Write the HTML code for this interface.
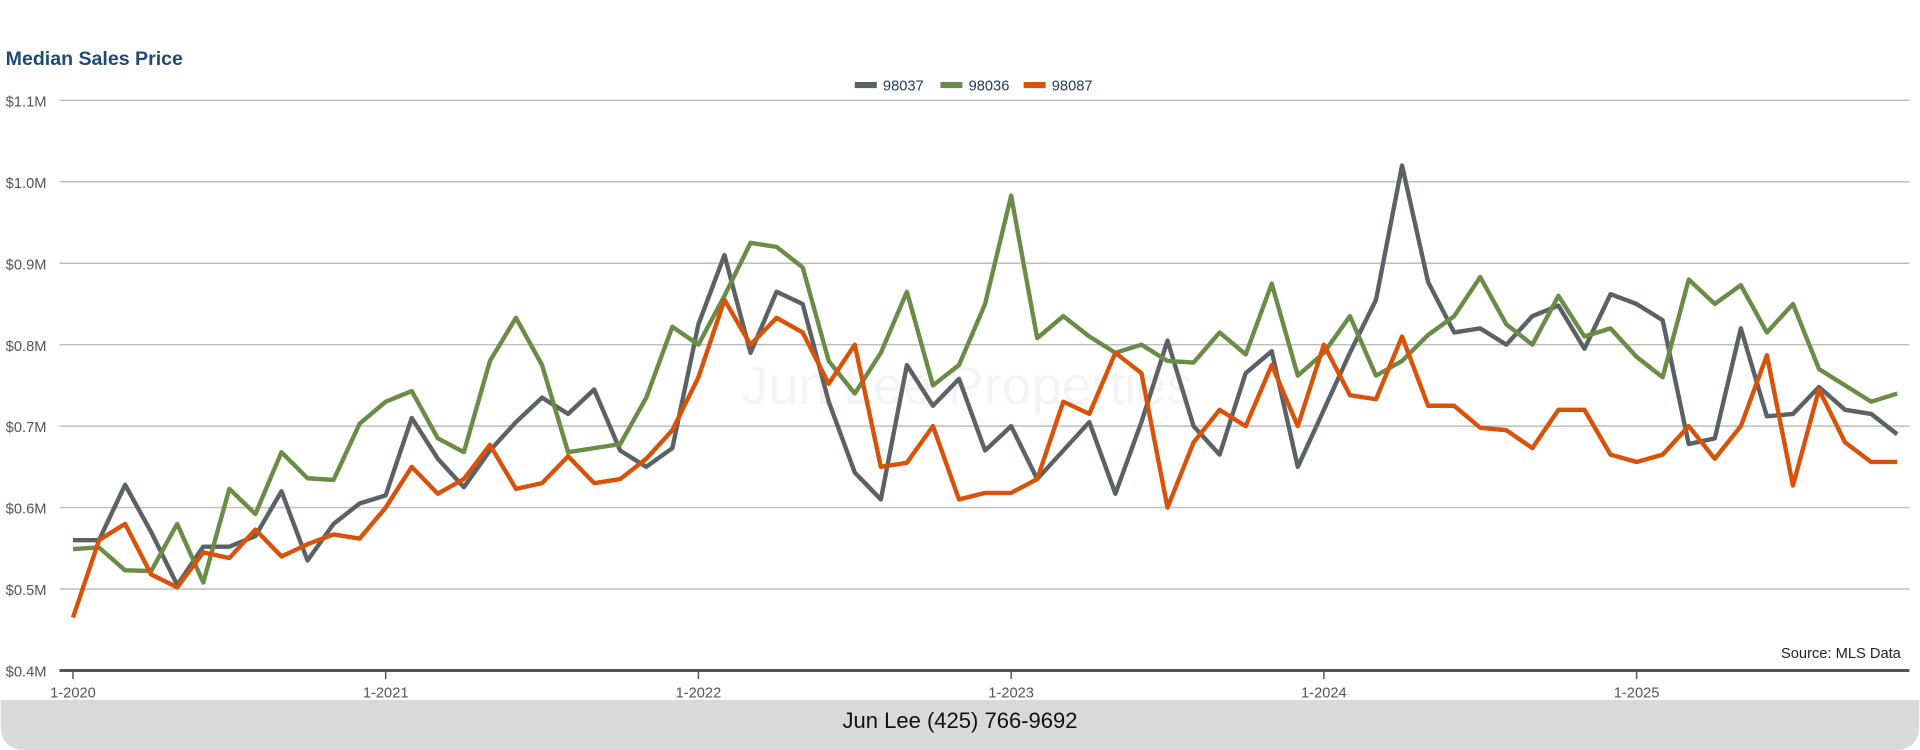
<!DOCTYPE html>
<html><head><meta charset="utf-8"><style>
html,body{margin:0;padding:0;background:#fff;width:1920px;height:750px;overflow:hidden}
svg{display:block;font-family:"Liberation Sans",Arial,sans-serif}
</style></head><body>
<svg id="chart" width="1920" height="750" viewBox="0 0 1568 613" xmlns="http://www.w3.org/2000/svg">
<text x="4" y="53" font-size="16" font-weight="bold" fill="#1f4a74">Median Sales Price</text>
<g id="legend"></g>
<text x="790" y="330" font-size="44" fill="#f4f4f4" text-anchor="middle">Jun Lee Properties</text>
<g id="grid"></g><g id="lines"></g><g id="axes"></g>
<text x="1553" y="538" font-size="12" fill="#222" text-anchor="end">Source: MLS Data</text>
<path d="M0 572 H1568 V593 Q1568 613 1548 613 H20 Q0 613 0 593 Z" fill="#d9d9d9"/>
<text x="784" y="595" font-size="18" fill="#111" text-anchor="middle">Jun Lee (425) 766-9692</text>
</svg>
<script>
const seriesNames = ["98037","98036","98087"];
const seriesColors = ["#5a6266","#6a8c47","#d9520a"];
const s98037 = [0.56,0.56,0.628,0.57,0.505,0.552,0.552,0.565,0.62,0.535,0.58,0.605,0.615,0.71,0.66,0.625,0.67,0.705,0.735,0.715,0.745,0.67,0.65,0.673,0.825,0.91,0.79,0.865,0.85,0.73,0.643,0.61,0.775,0.725,0.758,0.67,0.70,0.635,0.67,0.705,0.617,0.705,0.805,0.70,0.665,0.765,0.792,0.65,0.72,0.79,0.855,1.02,0.877,0.815,0.82,0.80,0.835,0.848,0.795,0.862,0.85,0.83,0.678,0.685,0.82,0.712,0.715,0.748,0.72,0.715,0.69];
const s98036 = [0.549,0.551,0.523,0.522,0.58,0.508,0.623,0.592,0.668,0.636,0.634,0.703,0.73,0.743,0.685,0.668,0.78,0.833,0.775,0.668,0.673,0.678,0.735,0.822,0.8,0.86,0.925,0.92,0.895,0.78,0.74,0.79,0.865,0.75,0.775,0.85,0.983,0.808,0.835,0.81,0.79,0.8,0.78,0.778,0.815,0.788,0.875,0.762,0.79,0.835,0.762,0.78,0.812,0.835,0.883,0.825,0.8,0.86,0.81,0.82,0.785,0.76,0.88,0.85,0.873,0.815,0.85,0.77,0.75,0.73,0.74];
const s98087 = [0.465,0.56,0.58,0.518,0.502,0.545,0.538,0.573,0.54,0.555,0.567,0.562,0.6,0.65,0.617,0.635,0.677,0.623,0.63,0.663,0.63,0.635,0.66,0.695,0.76,0.855,0.8,0.833,0.815,0.752,0.8,0.65,0.655,0.7,0.61,0.618,0.618,0.635,0.73,0.715,0.79,0.765,0.6,0.68,0.72,0.7,0.775,0.7,0.8,0.738,0.733,0.81,0.725,0.725,0.698,0.695,0.673,0.72,0.72,0.665,0.656,0.665,0.7,0.66,0.7,0.787,0.627,0.745,0.68,0.656,0.656];
const yTicks = [0.4,0.5,0.6,0.7,0.8,0.9,1.0,1.1];
const yTickLabels = ["$0.4M","$0.5M","$0.6M","$0.7M","$0.8M","$0.9M","$1.0M","$1.1M"];
const xTickIdx = [0,12,24,36,48,60];
const xTickLabels = ["1-2020","1-2021","1-2022","1-2023","1-2024","1-2025"];

const NS="http://www.w3.org/2000/svg";
const x0=59, dx=(1337-59)/60, yTop=82, yBot=548, vMin=0.4, vMax=1.1;
const X=i=>x0+i*dx;
const Y=v=>yBot-(v-vMin)/(vMax-vMin)*(yBot-yTop);
function mk(tag,attrs,parent){const e=document.createElementNS(NS,tag);for(const k in attrs)e.setAttribute(k,attrs[k]);parent.appendChild(e);return e;}
const grid=document.getElementById('grid'),lines=document.getElementById('lines'),axes=document.getElementById('axes'),legend=document.getElementById('legend');
yTicks.forEach((v,k)=>{
  if(v>vMin){const g=mk('line',{x1:48,x2:1560,y1:Y(v),y2:Y(v),stroke:'#bdbdbd','stroke-width':1.2},grid);
  
  }
  const t=mk('text',{x:4,y:Y(v)+5,'font-size':12,fill:'#555'},axes);t.textContent=yTickLabels[k];
  
  
});
const ax=mk('line',{x1:48,x2:1560,y1:yBot,y2:yBot,stroke:'#555','stroke-width':2.5},axes);


xTickIdx.forEach((i,k)=>{
  const tk=mk('line',{x1:X(i),x2:X(i),y1:yBot,y2:yBot+7,stroke:'#555','stroke-width':1.2},axes);
  
  
  const t=mk('text',{x:X(i),y:yBot+22,'font-size':12,fill:'#555','text-anchor':'middle'},axes);t.textContent=xTickLabels[k];
  
  
});
[s98037,s98036,s98087].forEach((d,k)=>{
  const p=mk('polyline',{points:d.map((v,i)=>X(i)+','+Y(v)).join(' '),fill:'none',stroke:seriesColors[k],'stroke-width':3.6,'stroke-linejoin':'round'},lines);
  
  
});
const lx=[698,768,836];
seriesNames.forEach((n,k)=>{
  const g=mk('g',{},legend);
  
  
  mk('rect',{x:lx[k],y:67,width:18,height:5,fill:seriesColors[k]},g);
  const t=mk('text',{x:lx[k]+23,y:74,'font-size':12,fill:'#1f3a5a'},g);t.textContent=n;
});
</script>
</body></html>
